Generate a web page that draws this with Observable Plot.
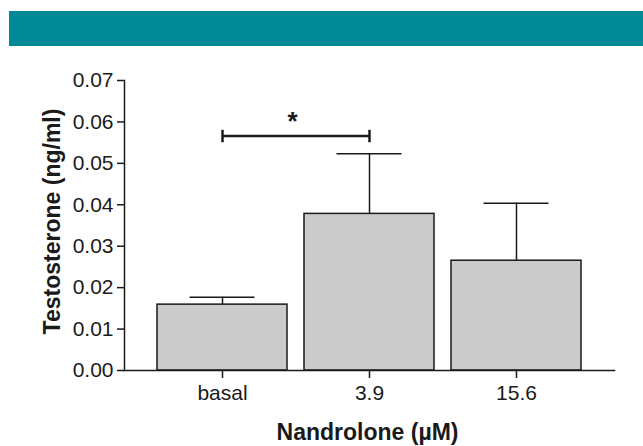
<!DOCTYPE html>
<html>
<head>
<meta charset="utf-8">
<script src="https://cdn.jsdelivr.net/npm/d3@7"></script>
<script src="https://cdn.jsdelivr.net/npm/@observablehq/plot@0.6"></script>
<style>
  html, body { margin: 0; padding: 0; background: #fff; }
  #wrap { position: relative; width: 643px; height: 446px; overflow: hidden; }
  #band { position: absolute; left: 9px; top: 11px; width: 634px; height: 35px; background: #008a98; }
  #chart { position: absolute; left: 0; top: 0; }
</style>
</head>
<body>
<div id="wrap"><div id="chart"></div><div id="band"></div></div>
<script>
const categories = ["basal", "3.9", "15.6"];
const means = [0.0159, 0.0378, 0.0265];
const errors = [0.0018, 0.0145, 0.0139];
const yTicks = [0, 0.01, 0.02, 0.03, 0.04, 0.05, 0.06, 0.07];
const sigFrom = "basal";
const sigTo = "3.9";
const sigLevel = 0.0566;
const sigLabel = "*";
const yLabel = "Testosterone (ng/ml)";
const xLabel = "Nandrolone (\u00b5M)";

const rows = categories.map((c, i) => ({cat: c, mean: means[i], top: means[i] + errors[i]}));
const ink = "#1a1a1a";
const capHalf = 0.0015;
const sigRows = [sigFrom, sigTo].map(c => ({cat: c, lo: sigLevel - capHalf, hi: sigLevel + capHalf}));

const chart = Plot.plot({
  width: 643,
  height: 446,
  marginLeft: 124,
  marginRight: 29,
  marginTop: 80,
  marginBottom: 76,
  style: {fontFamily: "'Liberation Sans', Arial, sans-serif", fontSize: "20px", color: ink, background: "transparent"},
  x: {domain: categories, paddingInner: 0.116, paddingOuter: 0.224, label: null},
  y: {domain: [0, 0.07], label: null},
  marks: [
    Plot.barY(rows, {x: "cat", y: "mean", fill: "#cbcbcb", stroke: ink, strokeWidth: 1.5}),
    Plot.ruleX(rows, {x: "cat", y1: "mean", y2: "top", stroke: ink, strokeWidth: 1.5}),
    Plot.tickY(rows, {x: "cat", y: "top", stroke: ink, strokeWidth: 1.5, insetLeft: 32.5, insetRight: 32.5}),
    Plot.link([{a: sigFrom, b: sigTo, y: sigLevel}], {x1: "a", x2: "b", y1: "y", y2: "y", stroke: ink, strokeWidth: 2.5}),
    Plot.link(sigRows, {x1: "cat", x2: "cat", y1: "lo", y2: "hi", stroke: ink, strokeWidth: 2.5}),
    Plot.text([sigLabel], {x: () => sigFrom, y: () => sigLevel, dx: 70, dy: -14, fontSize: 26, fontWeight: "bold", fill: ink}),
    Plot.axisY({ticks: yTicks, tickFormat: d3.format(".2f"), tickSize: 7, tickPadding: 4, stroke: ink, strokeWidth: 1.5, label: null, fontSize: 21}),
    Plot.axisX({tickSize: 8, tickPadding: 7, stroke: ink, strokeWidth: 1.5, label: null, fontSize: 21}),
    Plot.frame({anchor: "left", stroke: ink, strokeWidth: 1.5}),
    Plot.frame({anchor: "bottom", stroke: ink, strokeWidth: 1.5}),
    Plot.text([yLabel], {frameAnchor: "left", textAnchor: "middle", lineAnchor: "middle", rotate: -90, dx: -72, dy: -4, fontSize: 23, fontWeight: "bold", fill: ink}),
    Plot.text([xLabel], {frameAnchor: "bottom", textAnchor: "middle", lineAnchor: "middle", dx: -2, dy: 62, fontSize: 23, fontWeight: "bold", fill: ink})
  ]
});
document.getElementById("chart").appendChild(chart);
</script>
</body>
</html>
